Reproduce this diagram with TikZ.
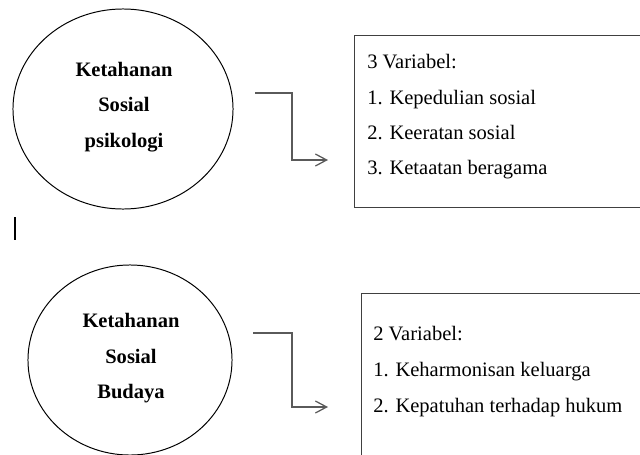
\documentclass[tikz,border=0pt]{standalone}
\usepackage{fontspec}
\setmainfont{Liberation Serif}
\usetikzlibrary{positioning, shapes.geometric, arrows.meta}
\definecolor{boxgray}{HTML}{404040}
\definecolor{linegray}{HTML}{5A5A5A}
\tikzset{
ring/.style={draw, ellipse, inner sep=0pt, line width=0.7pt},
varbox/.style={draw=boxgray, rectangle, inner sep=0pt, line width=1pt, anchor=north west},
ringtext/.style={anchor=base, inner sep=0pt, font=\fontsize{14.6}{17}\selectfont\bfseries},
itemtext/.style={anchor=base west, inner sep=0pt, font=\fontsize{14.6}{17}\selectfont},
elbow/.style={draw=linegray, line width=0.9pt, -{Straight Barb[length=8pt, width=8.5pt]}},
}

\begin{document}
\begin{tikzpicture}[x=0.025cm, y=-0.025cm]
    \clip (0,0) rectangle (640,455);

    %circles
    \node[ring, minimum width=5.5cm, minimum height=5cm]    (c1) at (123,109) {};
    \node[ring, minimum width=5.1cm, minimum height=4.75cm] (c2) at (130,360) {};

    %text in circle 1
    \node[ringtext] (c1a) at (124,76)  {Ketahanan};
    \node[ringtext] (c1b) at (124,111) {Sosial};
    \node[ringtext] (c1c) at (124,147) {psikologi};

    %text in circle 2
    \node[ringtext] (c2a) at (131,327) {Ketahanan};
    \node[ringtext] (c2b) at (131,363) {Sosial};
    \node[ringtext] (c2c) at (131,398) {Budaya};

    %boxes
    \node[varbox, minimum width=8.7cm, minimum height=4.3cm]   (b1) at (354,35)  {};
    \node[varbox, minimum width=8.5cm, minimum height=4.45cm]  (b2) at (361,293) {};

    %text in box 1
    \node[itemtext] (b1a) at (367,68)  {3 Variabel:};
    \node[itemtext] (b1b) at (367,104) {1. Kepedulian sosial};
    \node[itemtext] (b1c) at (367,139) {2. Keeratan sosial};
    \node[itemtext] (b1d) at (367,174) {3. Ketaatan beragama};

    %text in box 2
    \node[itemtext] (b2a) at (373,340) {2 Variabel:};
    \node[itemtext] (b2b) at (373,376) {1. Keharmonisan keluarga};
    \node[itemtext] (b2c) at (373,412) {2. Kepatuhan terhadap hukum};

    %elbow arrows
    \coordinate (a1s) at (255,93);
    \coordinate (a1c) at (292,93);
    \coordinate (a1e) at (328,160);
    \coordinate (a2s) at (253,333);
    \coordinate (a2c) at (292,333);
    \coordinate (a2e) at (328,407);
    \draw[elbow] (a1s) -- (a1c) |- (a1e);
    \draw[elbow] (a2s) -- (a2c) |- (a2e);

    % text cursor
    \draw[line width=2.1pt] (15,217) -- (15,240);

\end{tikzpicture}
\end{document}
